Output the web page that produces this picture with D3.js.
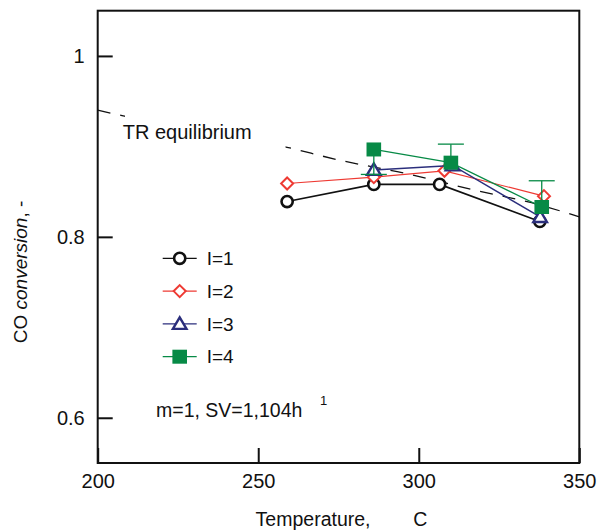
<!DOCTYPE html>
<html>
<head>
<meta charset="utf-8">
<script src="https://cdn.jsdelivr.net/npm/d3@7"></script>
<style>
  body { margin: 0; background: #fff; }
  svg text { font-family: "Liberation Sans", Arial, sans-serif; fill: #111; }
</style>
</head>
<body>
<div id="chart"></div>
<script>
// data
const seriesNames = ["I=1", "I=2", "I=3", "I=4"];
const temp1 = [259, 286, 306.5, 337.7];
const conv1 = [0.839, 0.858, 0.858, 0.817];
const temp2 = [259, 286, 308, 339];
const conv2 = [0.859, 0.866, 0.873, 0.845];
const temp3 = [286, 310.5, 337.8];
const conv3 = [0.874, 0.879, 0.822];
const temp4 = [286, 310, 338.3];
const conv4 = [0.8966, 0.882, 0.833];
const err4Low = [0.869, null, null];
const err4High = [null, 0.9025, 0.862];
const eqTemp = [200, 207.6, 259, 275, 296, 317, 338, 350];
const eqConv = [0.940, 0.934, 0.899, 0.885, 0.870, 0.852, 0.835, 0.822];
const xTicks = [200, 250, 300, 350];
const yTicks = [0.6, 0.8, 1];

const margin = { top: 10.7, right: 18.7, bottom: 67, left: 97.7 },
    width = 598 - margin.left - margin.right,
    height = 530 - margin.top - margin.bottom;

const svg = d3.select("#chart").append("svg")
    .attr("width", 598)
    .attr("height", 530);

const g = svg.append("g")
    .attr("transform", `translate(${margin.left},${margin.top})`);

const x = d3.scaleLinear().domain([200, 350]).range([0, width]);
const y = d3.scaleLinear().domain([0.55, 1.05]).range([height, 0]);

// equilibrium dashed line
const eqData = eqTemp.map((t, i) => ({ t: t, v: eqConv[i] }));
g.append("path")
    .datum(eqData)
    .attr("fill", "none")
    .attr("stroke", "#111")
    .attr("stroke-width", 1.3)
    .attr("stroke-dasharray", "13,10")
    .attr("d", d3.line().x(d => x(d.t)).y(d => y(d.v)).curve(d3.curveMonotoneX));

// white box behind label hides the line
g.append("rect")
    .attr("x", x(208.5))
    .attr("y", y(0.94))
    .attr("width", x(258.5) - x(208.5))
    .attr("height", y(0.895) - y(0.94))
    .attr("fill", "#fff");

g.append("text")
    .attr("x", x(207.8))
    .attr("y", y(0.908))
    .style("font-size", "20px")
    .text("TR equilibrium");

// series
const styles = [
    { color: "#111111", width: 1.6, shape: "circle" },
    { color: "#ee3a33", width: 1.2, shape: "diamond" },
    { color: "#2b2e7c", width: 1.5, shape: "triangle" },
    { color: "#078a46", width: 1.3, shape: "square" }
];
const temps = [temp1, temp2, temp3, temp4];
const convs = [conv1, conv2, conv3, conv4];

function drawMarker(sel, shape, color) {
    if (shape === "circle") {
        sel.append("circle").attr("r", 5.6)
            .attr("fill", "#fff").attr("stroke", color).attr("stroke-width", 2.6);
    } else if (shape === "diamond") {
        sel.append("path").attr("d", "M0,-6L6,0L0,6L-6,0Z")
            .attr("fill", "#fff").attr("stroke", color).attr("stroke-width", 2);
    } else if (shape === "triangle") {
        sel.append("path").attr("d", "M0,-6.5L6.8,5L-6.8,5Z")
            .attr("fill", "#fff").attr("stroke", color).attr("stroke-width", 2.4);
    } else {
        sel.append("rect").attr("x", -7.3).attr("y", -7).attr("width", 14.6).attr("height", 14)
            .attr("fill", color);
    }
}

styles.forEach((s, k) => {
    const pts = temps[k].map((t, i) => ({ t: t, v: convs[k][i], i: i }));
    g.append("path")
        .datum(pts)
        .attr("fill", "none")
        .attr("stroke", s.color)
        .attr("stroke-width", s.width)
        .attr("d", d3.line().x(d => x(d.t)).y(d => y(d.v)));

    if (k === 3) {
        // error bars of I=4
        pts.forEach(d => {
            const e = err4Low[d.i] !== null ? err4Low[d.i] : err4High[d.i];
            if (e === null) return;
            g.append("line")
                .attr("x1", x(d.t)).attr("x2", x(d.t))
                .attr("y1", y(d.v)).attr("y2", y(e))
                .attr("stroke", s.color).attr("stroke-width", 1.3);
            g.append("line")
                .attr("x1", x(d.t) - 13).attr("x2", x(d.t) + 13)
                .attr("y1", y(e)).attr("y2", y(e))
                .attr("stroke", s.color).attr("stroke-width", 1.3);
        });
    }

    pts.forEach(d => {
        const m = g.append("g").attr("transform", `translate(${x(d.t)},${y(d.v)})`);
        drawMarker(m, s.shape, s.color);
    });
});

// legend
const legend = g.append("g")
    .attr("transform", `translate(${162.7 - margin.left},${258.3 - margin.top})`);
seriesNames.forEach((name, k) => {
    const row = legend.append("g").attr("transform", `translate(0,${k * 32.8})`);
    row.append("line")
        .attr("x1", 0).attr("x2", 34)
        .attr("stroke", styles[k].color).attr("stroke-width", 1.3);
    const m = row.append("g").attr("transform", "translate(17,0)");
    drawMarker(m, styles[k].shape, styles[k].color);
    row.append("text")
        .attr("x", 44)
        .attr("dy", "0.35em")
        .style("font-size", "19px")
        .text(name);
});

// condition note
g.append("text")
    .attr("x", 156 - margin.left)
    .attr("y", 416.7 - margin.top)
    .style("font-size", "19.5px")
    .text("m=1, SV=1,104h");
g.append("text")
    .attr("x", 320 - margin.left)
    .attr("y", 405 - margin.top)
    .style("font-size", "13px")
    .text("1");

// axes with inward ticks
g.append("g")
    .attr("transform", `translate(0,${height})`)
    .call(d3.axisBottom(x).tickValues(xTicks).tickSizeInner(-15).tickSizeOuter(0).tickPadding(11).tickFormat(d3.format("d")))
    .call(a => a.select(".domain").remove())
    .call(a => a.selectAll("line").attr("stroke", "#111").attr("stroke-width", 2))
    .call(a => a.selectAll("text").style("font-size", "20px").attr("fill", "#111"));

g.append("g")
    .call(d3.axisLeft(y).tickValues(yTicks).tickSizeInner(-15).tickSizeOuter(0).tickPadding(13).tickFormat(d => d === 1 ? "1" : d3.format(".1f")(d)))
    .call(a => a.select(".domain").remove())
    .call(a => a.selectAll("line").attr("stroke", "#111").attr("stroke-width", 2))
    .call(a => a.selectAll("text").style("font-size", "20px").attr("fill", "#111"));

// frame
g.append("rect")
    .attr("width", width)
    .attr("height", height)
    .attr("fill", "none")
    .attr("stroke", "#111")
    .attr("stroke-width", 2);

// axis titles
svg.append("text")
    .attr("x", 370.5)
    .attr("y", 526)
    .attr("text-anchor", "end")
    .style("font-size", "19.5px")
    .text("Temperature,");
svg.append("text")
    .attr("x", 413.3)
    .attr("y", 526)
    .style("font-size", "19.5px")
    .text("C");

const yTitle = svg.append("text")
    .attr("transform", "translate(27,272) rotate(-90)")
    .attr("text-anchor", "middle")
    .style("font-size", "19px");
yTitle.append("tspan").text("CO ");
yTitle.append("tspan").style("font-style", "italic").text("conversion");
yTitle.append("tspan").text(", -");
</script>
</body>
</html>
